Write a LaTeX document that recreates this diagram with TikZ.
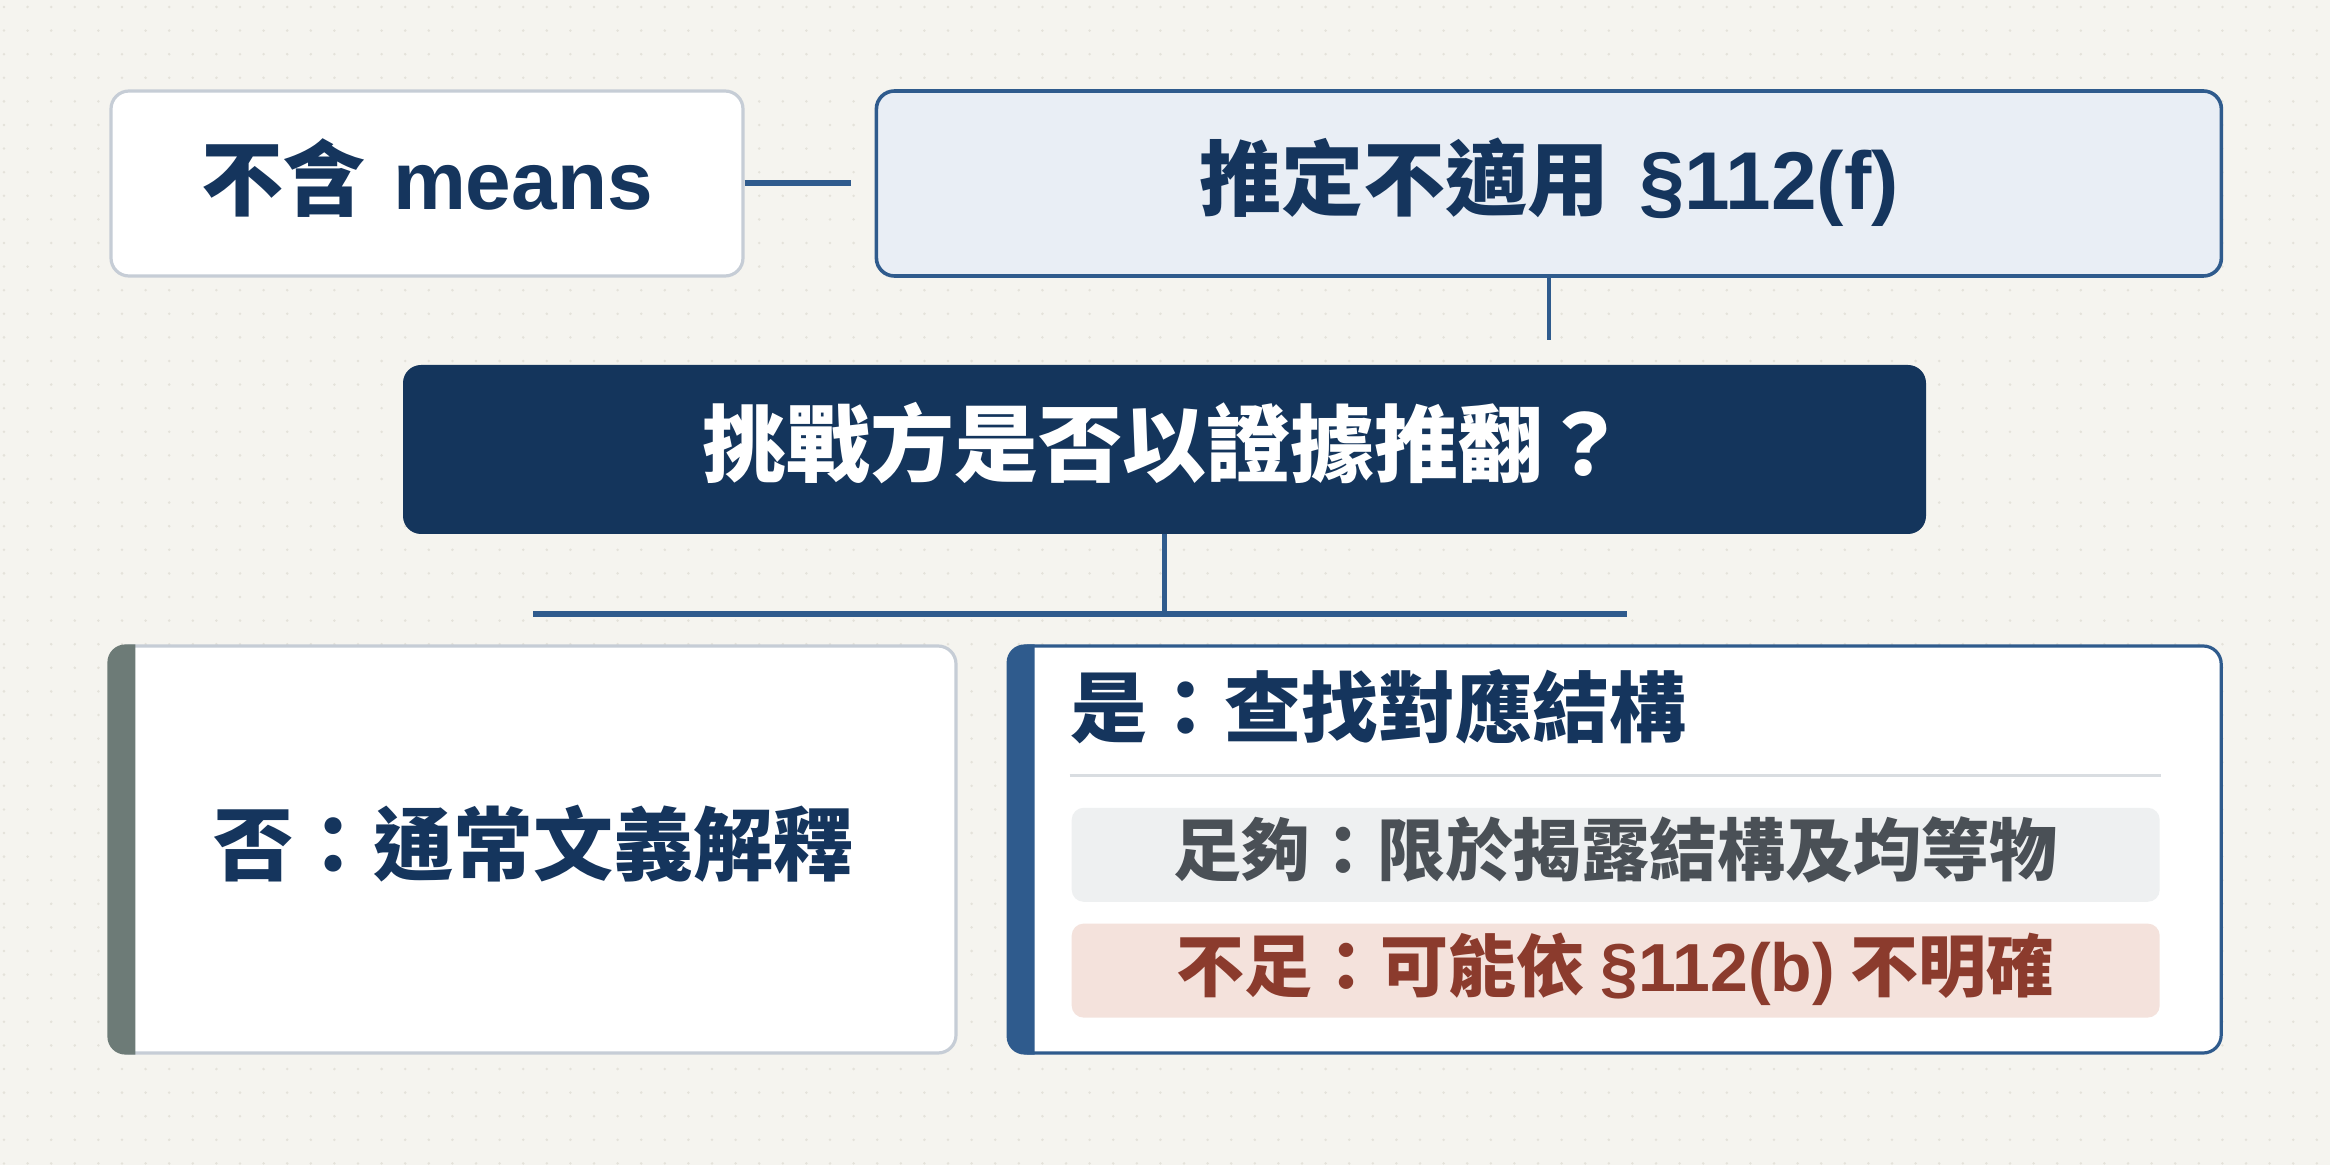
\documentclass[tikz,border=0pt]{standalone}
\usepackage{fontspec}
\setmainfont{Noto Sans CJK TC}
\newfontfamily\latinfont{Liberation Sans}
\usepackage{xcolor}
\usetikzlibrary{positioning}

\definecolor{bg_paper}{HTML}{F5F4EF}
\definecolor{bg_dot}{HTML}{E4E2DA}
\definecolor{navy}{HTML}{15355D}
\definecolor{dark_navy}{HTML}{14355C}
\definecolor{blue_line}{HTML}{2F5B8D}
\definecolor{grey_line}{HTML}{C6CDD6}
\definecolor{pale_blue}{HTML}{E9EEF5}
\definecolor{bar_grey}{HTML}{6D7B77}
\definecolor{sep_grey}{HTML}{D9DDE1}
\definecolor{ok_fill}{HTML}{EEF0F1}
\definecolor{ok_text}{HTML}{4A5056}
\definecolor{bad_fill}{HTML}{F4E2DC}
\definecolor{bad_text}{HTML}{8B3B2D}

\begin{document}
\begin{tikzpicture}[x=1pt,y=-1pt,
      base_box/.style={
         rounded corners=9pt,
         inner sep=0pt,
         text=navy,
         text height=30pt,
         text depth=3.8pt,
         font=\fontsize{41pt}{49pt}\selectfont\bfseries},
      box_plain/.style={
         base_box,
         draw=grey_line,
         line width=1.6pt,
         fill=white},
      box_presume/.style={
         base_box,
         draw=blue_line,
         line width=1.8pt,
         fill=pale_blue},
      box_dark/.style={
         base_box,
         fill=dark_navy,
         text=white,
         font=\fontsize{42pt}{50pt}\selectfont\bfseries},
      box_branch/.style={
         base_box,
         fill=white,
         line width=1.6pt,
         minimum height=203.5pt},
      sub_box/.style={
         rounded corners=6pt,
         inner sep=0pt,
         minimum width=544pt,
         minimum height=47pt,
         text height=24pt,
         text depth=3.6pt,
         font=\fontsize{34pt}{40pt}\selectfont\bfseries},
      line_h/.style={
         draw=blue_line,
         line width=3pt},
      line_v/.style={
         draw=blue_line,
         line width=2.25pt}
]
      \useasboundingbox (0,0) rectangle (1165,582.5);
      %paper with dot grid
      \fill[bg_paper] (0,0) rectangle (1165,582.5);
      \foreach \i in {0,...,98}
        \foreach \j in {0,...,49}
          \fill[bg_dot] (2+\i*11.8,3.5+\j*11.8) circle (0.7pt);

      %top row
      \node[box_plain,minimum width=316pt,minimum height=92.5pt] (means) at (213.5,91.75) {不含\hspace{14pt}{\latinfont means}};
      \node[box_presume,minimum width=672.5pt,minimum height=92.5pt,right=65pt of means] (presume) {推定不適用\hspace{15pt}{\latinfont §112(f)}};

      %question
      \node[box_dark,minimum width=761.5pt,minimum height=84.5pt] (challenge) at (582.25,224.75) {挑戰方是否以證據推翻？};

      %branches
      \node[box_branch,draw=grey_line,minimum width=422.5pt,text height=29pt,text depth=3.6pt,font=\fontsize{40pt}{48pt}\selectfont\bfseries] (no) at (266.75,424.75) {否：通常文義解釋};
      \node[box_branch,draw=blue_line,minimum width=605.5pt,right=25.5pt of no] (yes) {};

      %side bars
      \foreach \b/\c in {no/bar_grey, yes/blue_line} {
        \begin{scope}
          \clip ([xshift=-3pt,yshift=-3pt]\b.south west) rectangle ([xshift=13pt,yshift=3pt]\b.north west);
          \fill[\c,rounded corners=9pt] ([xshift=-1pt]\b.south west) rectangle (\b.north east);
        \end{scope}
      }

      %inside the yes branch
      \node[anchor=west,inner sep=0pt,text=navy,text height=33pt,text depth=3.7pt,font=\fontsize{38.5pt}{46pt}\selectfont\bfseries] (yes_title) at ([xshift=30.5pt,yshift=-31.5pt]yes.north west) {是：查找對應結構};
      \coordinate (sep_l) at ([xshift=30.5pt,yshift=-65.5pt]yes.north west);
      \coordinate (sep_r) at ([xshift=-31pt,yshift=-65.5pt]yes.north east);
      \draw[sep_grey,line width=1.5pt] (sep_l) -- (sep_r);
      \node[sub_box,fill=ok_fill,text=ok_text,below=81.5pt of yes.north] (enough) {足夠：限於揭露結構及均等物};
      \node[sub_box,fill=bad_fill,text=bad_text,below=10.5pt of enough] (lacking) {不足：可能依\hspace{8pt}{\latinfont §112(b)}\hspace{8pt}不明確};

      %connectors
      \coordinate (bus_l) at (266.5,307);
      \coordinate (bus_r) at (813.5,307);
      \draw[line_h,shorten >=12pt] (means) -- (presume);
      \draw[line_v,shorten >=12.5pt] (presume.south) -- (presume.south |- challenge.north);
      \draw[line_v] (challenge.south) -- (challenge.south |- bus_l);
      \draw[line_h] (bus_l) -- (bus_r);
\end{tikzpicture}
\end{document}
